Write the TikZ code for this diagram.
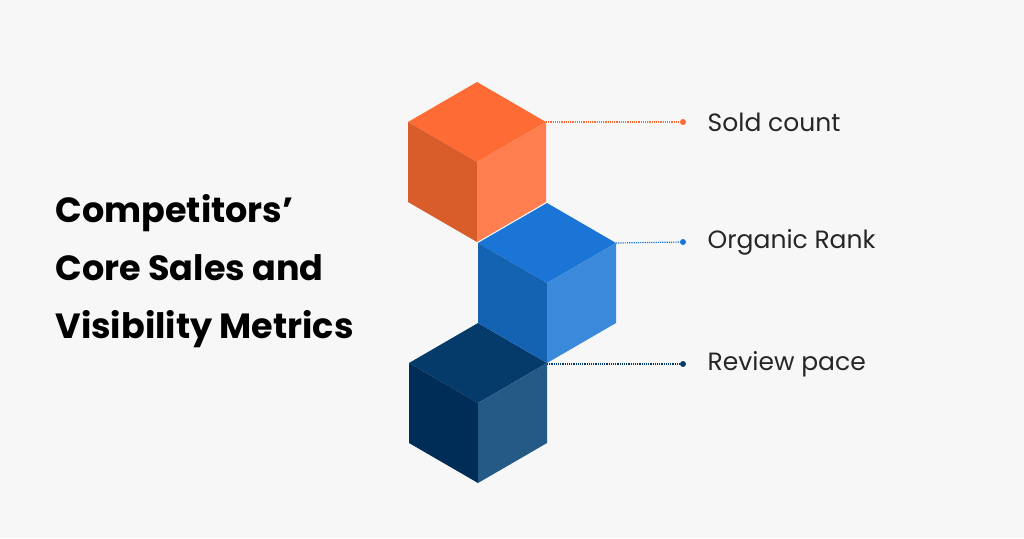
\documentclass[tikz,border=0pt]{standalone}
\usepackage{fontspec}
\setmainfont{Poppins}
\usetikzlibrary{positioning}
\definecolor{bgc}{HTML}{F7F7F7}
\definecolor{orT}{HTML}{FF6B35}
\definecolor{orL}{HTML}{D95C2B}
\definecolor{orR}{HTML}{FF7E50}
\definecolor{blT}{HTML}{1A75D6}
\definecolor{blL}{HTML}{1463B3}
\definecolor{blR}{HTML}{3A89DB}
\definecolor{dkT}{HTML}{053B6B}
\definecolor{dkL}{HTML}{002D57}
\definecolor{dkR}{HTML}{245A85}
\tikzset{leader/.style={densely dotted,line width=1.2pt},
	 tip/.style={circle,fill,inner sep=0pt,minimum size=6pt},
	 metric/.style={anchor=west,font=\fontsize{25}{30}\selectfont,text=black!85},
	 title/.style={anchor=west,align=left,font=\fontsize{35}{58}\bfseries\selectfont}
	 }
% cube: #1 = top corner, #2,#3,#4 = top/left/right colours
\newcommand{\isocube}[5]{
	\coordinate (#1t) at (#2);
	\coordinate (#1l) at ($(#2)+(-69,40)$);
	\coordinate (#1r) at ($(#2)+(69,40)$);
	\coordinate (#1c) at ($(#2)+(0,80)$);
	\coordinate (#1bl) at ($(#2)+(-69,120)$);
	\coordinate (#1br) at ($(#2)+(69,120)$);
	\coordinate (#1b) at ($(#2)+(0,160)$);
	\fill[#3] (#1t) -- (#1l) -- (#1c) -- (#1r) -- cycle;
	\fill[#4] (#1l) -- (#1c) -- (#1b) -- (#1bl) -- cycle;
	\fill[#5] (#1r) -- (#1c) -- (#1b) -- (#1br) -- cycle;
}
\usetikzlibrary{calc}
\begin{document}
\begin{tikzpicture}[x=1pt,y=-1pt]
	\fill[bgc] (0,0) rectangle (1024,538);
	\useasboundingbox (0,0) rectangle (1024,538);
	\isocube{o}{477,82}{orT}{orL}{orR}
	\isocube{d}{478,323}{dkT}{dkL}{dkR}
	\isocube{u}{547,203}{blT}{blL}{blR}
	\node[title] (head) at (52,271) {Competitors’\\Core Sales and\\Visibility Metrics};
	\node[tip,orT] (p1) at (683,122) {};
	\node[tip,blT] (p2) at (683,242) {};
	\node[tip,dkT] (p3) at (683,364) {};
	\node[metric] (m1) [right=18pt of p1] {Sold count};
	\node[metric] (m2) [right=18pt of p2] {Organic Rank};
	\node[metric] (m3) [right=18pt of p3] {Review pace};
	\draw[leader,orT] (or) -- (p1);
	\draw[leader,blT] (ur) -- (p2);
	\draw[leader,dkT] (uc|-p3) -- (p3);
\end{tikzpicture}
\end{document}
